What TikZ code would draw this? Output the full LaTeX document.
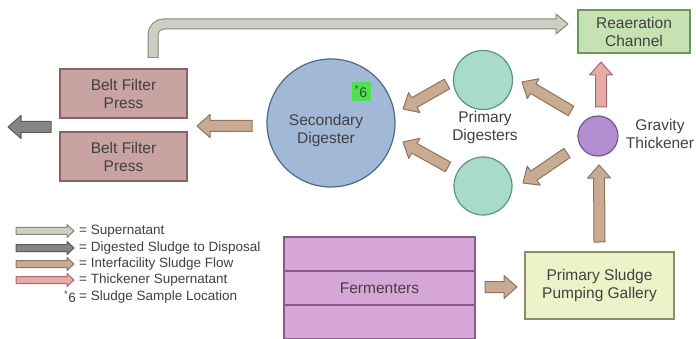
\documentclass[tikz,border=0pt]{standalone}
\usepackage{fontspec}
\setmainfont{Liberation Sans}
\usetikzlibrary{calc,positioning}

\definecolor{txt}{HTML}{414141}
\definecolor{bfpfill}{HTML}{C9A2A2}
\definecolor{bfpline}{HTML}{8A6262}
\definecolor{secfill}{HTML}{A1B9D6}
\definecolor{secline}{HTML}{4C6A88}
\definecolor{pdfill}{HTML}{A9DCC8}
\definecolor{pdline}{HTML}{5A9684}
\definecolor{thkfill}{HTML}{B48CD0}
\definecolor{thkline}{HTML}{74568E}
\definecolor{reafill}{HTML}{C6E1B2}
\definecolor{realine}{HTML}{6E9658}
\definecolor{fermfill}{HTML}{D6A6D6}
\definecolor{fermline}{HTML}{8A5A8A}
\definecolor{pumpfill}{HTML}{EEF2C9}
\definecolor{pumpline}{HTML}{8C8C6C}
\definecolor{tanfill}{HTML}{C9AB92}
\definecolor{tanline}{HTML}{8E735E}
\definecolor{supfill}{HTML}{CECEC4}
\definecolor{supline}{HTML}{86867A}
\definecolor{dspfill}{HTML}{858585}
\definecolor{dspline}{HTML}{5A5A5A}
\definecolor{pinkfill}{HTML}{E6ABA6}
\definecolor{pinkline}{HTML}{A46E6E}
\definecolor{marker}{HTML}{4FE04F}

\tikzset{
  unit/.style={outer sep=0pt, line width=1.2pt, text=txt, align=center,
    font=\fontsize{15.5}{18}\selectfont},
  boxunit/.style={unit, rectangle},
  tankunit/.style={unit, circle, inner sep=0pt},
  legendtext/.style={anchor=west, text=txt, inner sep=0pt,
    font=\fontsize{13.5}{15}\selectfont},
  tanflow/.style={fill=tanfill, draw=tanline, line width=1pt, line join=round},
  supflow/.style={fill=supfill, draw=supline, line width=1pt, line join=round},
  dspflow/.style={fill=dspfill, draw=dspline, line width=1pt, line join=round},
  pinkflow/.style={fill=pinkfill, draw=pinkline, line width=1pt, line join=round},
}

% block arrow: half shaft, half head, head length
\def\fashaft{5.5pt}
\def\fawing{11.5pt}
\def\fahead{13pt}
\newcommand{\fatarrow}[3][]{%
  \coordinate (fa-s) at (#2);
  \coordinate (fa-e) at (#3);
  \coordinate (fa-m) at ($(fa-e)!\fahead!(fa-s)$);
  \filldraw[#1] ($(fa-s)!\fashaft!90:(fa-e)$) -- ($(fa-m)!\fashaft!-90:(fa-s)$)
    -- ($(fa-m)!\fawing!-90:(fa-s)$) -- (fa-e) -- ($(fa-m)!\fawing!90:(fa-s)$)
    -- ($(fa-m)!\fashaft!90:(fa-s)$) -- ($(fa-s)!\fashaft!-90:(fa-e)$) -- cycle;
}

\begin{document}
\begin{tikzpicture}[x=1pt, y=-1pt]
    \path[use as bounding box, fill=white] (0,0) rectangle (696,339);

    % presses, digesters, thickener
    \node[boxunit, fill=bfpfill, draw=bfpline, minimum width=127, minimum height=49] (bfp1) at (123.5,93.5) {Belt Filter\\Press};
    \node[boxunit, fill=bfpfill, draw=bfpline, minimum width=127, minimum height=49, below=14pt of bfp1] (bfp2) {Belt Filter\\Press};
    \node[tankunit, fill=secfill, draw=secline, minimum size=128] (sec) at (331,123) {};
    \node[text=txt, align=center, font=\fontsize{15.5}{18}\selectfont] (seclbl) at (326,130) {Secondary\\Digester};
    \node[fill=marker, text=txt, inner sep=0pt, minimum width=19, minimum height=19,
      font=\fontsize{14}{14}\selectfont] (mark) at (361,92) {\textsuperscript{*}6};
    \node[tankunit, fill=pdfill, draw=pdline, minimum size=59] (pd1) at (483,80) {};
    \node[tankunit, fill=pdfill, draw=pdline, minimum size=58] (pd2) at (483,186) {};
    \node[text=txt, align=center, font=\fontsize{15.5}{18}\selectfont] (pdlbl) at (485,127) {Primary\\Digesters};
    \node[tankunit, fill=thkfill, draw=thkline, minimum size=40] (thick) at (598,136) {};
    \node[text=txt, align=center, font=\fontsize{15.5}{18}\selectfont] (thklbl) at (660,134) {Gravity\\Thickener};
    \node[boxunit, fill=reafill, draw=realine, minimum width=112, minimum height=43] (reaer) at (634,31.5) {Reaeration\\Channel};

    % fermenters and pumping gallery
    \node[boxunit, fill=fermfill, draw=fermline, minimum width=191, minimum height=34] (ferm1) at (379.5,254) {};
    \node[boxunit, fill=fermfill, draw=fermline, minimum width=191, minimum height=34, below=0pt of ferm1] (ferm2) {Fermenters};
    \node[boxunit, fill=fermfill, draw=fermline, minimum width=191, minimum height=34, below=0pt of ferm2] (ferm3) {};
    \node[boxunit, fill=pumpfill, draw=pumpline, minimum width=149, minimum height=67] (pump) at (599.5,285.5) {Primary Sludge\\Pumping Gallery};

    % supernatant return
    \coordinate (sup-s) at ($(bfp1.north)+(29.5,-11)$);
    \coordinate (sup-b) at ($(reaer.west)+(-22,-7.5)$);
    \coordinate (sup-e) at ($(reaer.west)+(-10,-7.5)$);
    \draw[supline, line width=11pt, rounded corners=11pt] (sup-s) |- (sup-b);
    \draw[supfill, line width=9pt, rounded corners=11pt, shorten <=1pt] (sup-s) |- (sup-b);
    \filldraw[supflow] ($(sup-b)+(0,-4.5)$) -- ($(sup-b)+(0,-10)$) -- (sup-e)
      -- ($(sup-b)+(0,10)$) -- ($(sup-b)+(0,4.5)$);

    % sludge flows
    \fatarrow[tanflow]{$(sec.west)+(-15,3)$}{$(bfp1.south east)+(10,8)$}
    \fatarrow[dspflow]{$(bfp1.south west)+(-9,9)$}{$(bfp1.south west)+(-52,9)$}
    \fatarrow[tanflow]{$(pd1.center)+(-36,4)$}{$(sec.center)+(72,-14)$}
    \fatarrow[tanflow]{$(pd2.center)+(-35,-19)$}{$(sec.center)+(72,19)$}
    \fatarrow[tanflow]{$(thick.center)+(-27,-25)$}{$(pd1.center)+(39,2)$}
    \fatarrow[tanflow]{$(thick.center)+(-31,17)$}{$(pd2.center)+(40,-3)$}
    \fatarrow[pinkflow]{$(thick.north)+(3,-9)$}{$(reaer.south)+(-33,9)$}
    \fatarrow[tanflow]{$(pump.north)+(0,-10)$}{$(thick.south)+(1,9)$}
    \fatarrow[tanflow]{$(ferm2.east)+(10,-1)$}{$(pump.west)+(-8,1.5)$}

    % legend
    \node[legendtext] (lgsup) at (79,231) {= Supernatant};
    \node[legendtext] (lgdsp) at (79,248) {= Digested Sludge to Disposal};
    \node[legendtext] (lgtan) at (79,264) {= Interfacility Sludge Flow};
    \node[legendtext] (lgpnk) at (79,280) {= Thickener Supernatant};
    \node[legendtext] (lgmrk) at (79,297) {= Sludge Sample Location};
    \node[anchor=east, text=txt, inner sep=0pt, font=\fontsize{13.5}{15}\selectfont] (lgsix) at ($(lgmrk.west)+(-3,0)$) {\textsuperscript{*}6};
    \begin{scope}
      \def\fashaft{3.5pt}\def\fawing{6.5pt}\def\fahead{7pt}
      \fatarrow[supflow]{$(lgsup.west)+(-63,0)$}{$(lgsup.west)+(-5,0)$}
      \fatarrow[dspflow]{$(lgdsp.west)+(-63,0)$}{$(lgdsp.west)+(-5,0)$}
      \fatarrow[tanflow]{$(lgtan.west)+(-63,0)$}{$(lgtan.west)+(-5,0)$}
      \fatarrow[pinkflow]{$(lgpnk.west)+(-63,0)$}{$(lgpnk.west)+(-5,0)$}
    \end{scope}
\end{tikzpicture}
\end{document}
